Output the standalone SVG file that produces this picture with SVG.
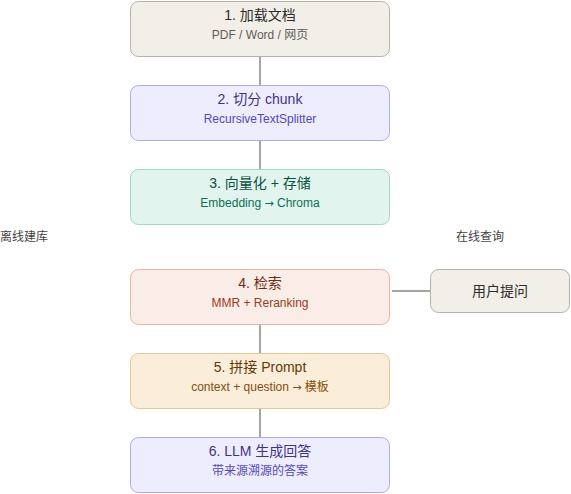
<svg xmlns="http://www.w3.org/2000/svg" width="571" height="494" viewBox="0 0 571 494">
<style>
text{font-family:"Liberation Sans","Noto Sans CJK SC",Arial,sans-serif;text-anchor:middle}
.t{font-size:14px}
.s{font-size:12px}
.ar{font-family:"DejaVu Sans",sans-serif;font-size:11px}
.lbl{font-size:12px;fill:#444441;text-anchor:start}
.gray rect{fill:#F1EFE8;stroke:#B4B2A9}
.gray .t{fill:#2C2C2A}.gray .s{fill:#5F5E5A}
.purple rect{fill:#EEEDFE;stroke:#AFA9EC}
.purple .t{fill:#3C3489}.purple .s{fill:#534AB7}
.teal rect{fill:#E1F5EE;stroke:#9FD8C4}
.teal .t{fill:#085041}.teal .s{fill:#0F6E56}
.coral rect{fill:#FAECE7;stroke:#E8B4A2}
.coral .t{fill:#712B13}.coral .s{fill:#993C1D}
.amber rect{fill:#FAEEDA;stroke:#E6C898}
.amber .t{fill:#633806}.amber .s{fill:#854F0B}
rect{stroke-width:1}
.c line{stroke:#888780;stroke-width:1.5}
</style>
<rect width="571" height="494" fill="#ffffff"/>
<g class="c" id="connectors">
<line x1="260" y1="57" x2="260" y2="85"/>
<line x1="260" y1="141" x2="260" y2="169"/>
<line x1="260" y1="325" x2="260" y2="353"/>
<line x1="260" y1="409" x2="260" y2="437"/>
<line x1="392" y1="291" x2="430" y2="291"/>
</g>
<g id="n1" class="gray"><rect x="130.5" y="1.5" width="259" height="55" rx="8"/><text class="t" x="260" y="20">1. 加载文档</text><text class="s" x="260" y="38.5">PDF / Word / 网页</text></g>
<g id="n2" class="purple"><rect x="130.5" y="85.5" width="259" height="55" rx="8"/><text class="t" x="260" y="104">2. 切分 chunk</text><text class="s" x="260" y="122.5">RecursiveTextSplitter</text></g>
<g id="n3" class="teal"><rect x="130.5" y="169.5" width="259" height="55" rx="8"/><text class="t" x="260" y="188">3. 向量化 + 存储</text><text class="s" x="260" y="206.5">Embedding <tspan class="ar">→</tspan> Chroma</text></g>
<g id="n4" class="coral"><rect x="130.5" y="269.5" width="259" height="55" rx="8"/><text class="t" x="260" y="288">4. 检索</text><text class="s" x="260" y="306.5">MMR + Reranking</text></g>
<g id="n5" class="amber"><rect x="130.5" y="353.5" width="259" height="55" rx="8"/><text class="t" x="260" y="372">5. 拼接 Prompt</text><text class="s" x="260" y="390.5">context + question <tspan class="ar">→</tspan> 模板</text></g>
<g id="n6" class="purple"><rect x="130.5" y="437.5" width="259" height="55" rx="8"/><text class="t" x="260" y="456">6. LLM 生成回答</text><text class="s" x="260" y="474.5">带来源溯源的答案</text></g>
<g id="q" class="gray"><rect x="430.5" y="269.5" width="139" height="43" rx="8"/><text class="t" x="500" y="296">用户提问</text></g>
<g id="labels"><text class="lbl" x="0" y="241">离线建库</text><text class="lbl" x="456" y="241">在线查询</text></g>
</svg>
